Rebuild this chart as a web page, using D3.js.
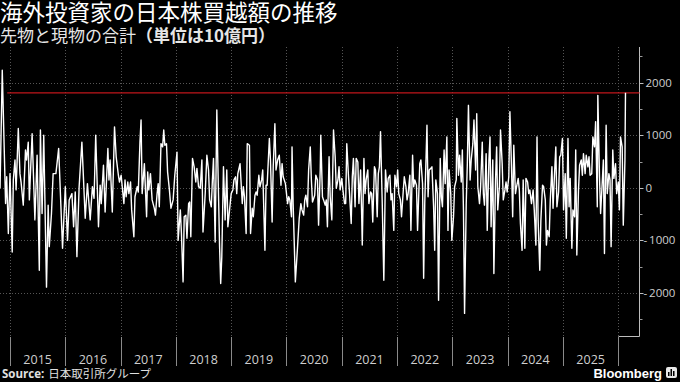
<!DOCTYPE html>
<html>
<head>
<meta charset="utf-8">
<script src="https://cdn.jsdelivr.net/npm/d3@7"></script>
<style>
  html, body { margin: 0; padding: 0; background: #000; }
  svg { display: block; }
</style>
</head>
<body>
<svg id="chart" width="680" height="382"></svg>
<script>
// weekly net buying by foreign investors (futures + cash), 10億円
// dates as decimal years
const dates = [
	2014.82, 2014.86, 2014.92, 2014.94, 2014.97, 2015.00, 2015.04, 2015.06, 2015.09, 2015.11, 2015.15, 2015.18, 2015.20, 2015.24, 2015.28, 2015.30, 2015.33, 2015.35, 2015.40, 2015.45, 2015.49, 2015.53, 2015.55, 2015.58, 2015.61, 2015.66, 2015.69, 2015.71, 2015.75, 2015.78, 2015.83, 2015.88, 2015.95, 2016.00, 2016.04, 2016.07, 2016.12, 2016.15, 2016.18, 2016.21, 2016.25, 2016.30, 2016.36, 2016.40, 2016.45, 2016.49, 2016.52, 2016.55, 2016.60, 2016.63, 2016.65, 2016.69, 2016.72, 2016.77,
	2016.79, 2016.81, 2016.85, 2016.89, 2016.92, 2016.96, 2016.98, 2017.01, 2017.03, 2017.06, 2017.08, 2017.10, 2017.13, 2017.15, 2017.18, 2017.20, 2017.24, 2017.26, 2017.30, 2017.32, 2017.35, 2017.37, 2017.39, 2017.43, 2017.47, 2017.49, 2017.51, 2017.54, 2017.57, 2017.61, 2017.63, 2017.66, 2017.68, 2017.70, 2017.73, 2017.76, 2017.78, 2017.80, 2017.83, 2017.85, 2017.88, 2017.91, 2017.95, 2017.98, 2018.02, 2018.04, 2018.08, 2018.10, 2018.13, 2018.15, 2018.18, 2018.20, 2018.23, 2018.25, 2018.27, 2018.30, 2018.33, 2018.36, 2018.38, 2018.41, 2018.44, 2018.47, 2018.49, 2018.53, 2018.56, 2018.59, 2018.61, 2018.64, 2018.66, 2018.68, 2018.71,
	2018.74, 2018.76, 2018.79, 2018.81, 2018.83, 2018.86, 2018.89, 2018.92, 2018.94, 2018.97, 2019.00, 2019.03, 2019.05, 2019.08, 2019.10, 2019.12, 2019.16, 2019.20, 2019.22, 2019.24, 2019.27, 2019.29, 2019.33, 2019.35, 2019.38, 2019.40, 2019.43, 2019.45, 2019.47, 2019.50, 2019.52, 2019.55, 2019.57, 2019.61, 2019.63, 2019.65, 2019.69, 2019.71, 2019.74, 2019.76, 2019.79, 2019.81, 2019.84, 2019.87, 2019.90, 2019.92, 2019.94, 2019.98, 2020.02, 2020.04, 2020.06, 2020.09, 2020.10, 2020.12, 2020.16, 2020.20, 2020.23, 2020.26, 2020.28, 2020.31, 2020.33, 2020.35, 2020.38, 2020.40, 2020.43, 2020.45, 2020.47, 2020.51, 2020.53, 2020.56, 2020.58, 2020.61,
	2020.62, 2020.65, 2020.67, 2020.70, 2020.72, 2020.74, 2020.77, 2020.79, 2020.82, 2020.85, 2020.88, 2020.90, 2020.93, 2020.95, 2020.97, 2021.00, 2021.02, 2021.05, 2021.07, 2021.09, 2021.12, 2021.14, 2021.17, 2021.19, 2021.21, 2021.24, 2021.26, 2021.29, 2021.31, 2021.34, 2021.36, 2021.37, 2021.40, 2021.42, 2021.44, 2021.47, 2021.49, 2021.52, 2021.54, 2021.56, 2021.59, 2021.61, 2021.64, 2021.66, 2021.68, 2021.70, 2021.73, 2021.76, 2021.79, 2021.82, 2021.84, 2021.87, 2021.89, 2021.91, 2021.94, 2021.96, 2021.99, 2022.01, 2022.03, 2022.06, 2022.08, 2022.11, 2022.13, 2022.16, 2022.18, 2022.20, 2022.23, 2022.25, 2022.28, 2022.30, 2022.32, 2022.35, 2022.37, 2022.41, 2022.43, 2022.46, 2022.48, 2022.50,
	2022.54, 2022.56, 2022.58, 2022.61, 2022.63, 2022.66, 2022.68, 2022.70, 2022.73, 2022.75, 2022.78, 2022.80, 2022.82, 2022.85, 2022.87, 2022.90, 2022.92, 2022.94, 2022.97, 2022.99, 2023.02, 2023.04, 2023.07, 2023.08, 2023.11, 2023.13, 2023.16, 2023.18, 2023.20, 2023.22, 2023.25, 2023.27, 2023.29, 2023.32, 2023.34, 2023.37, 2023.39, 2023.42, 2023.44, 2023.46, 2023.49, 2023.51, 2023.54, 2023.56, 2023.58, 2023.61, 2023.63, 2023.66, 2023.68, 2023.70, 2023.73, 2023.75, 2023.78, 2023.80, 2023.82, 2023.85, 2023.87, 2023.90, 2023.92, 2023.95, 2023.97, 2023.99, 2024.02, 2024.04, 2024.07, 2024.09, 2024.11, 2024.14, 2024.16, 2024.19, 2024.21, 2024.23, 2024.26, 2024.28, 2024.31, 2024.33, 2024.36, 2024.38, 2024.40,
	2024.43, 2024.46, 2024.48, 2024.51, 2024.53, 2024.55, 2024.58, 2024.60, 2024.63, 2024.65, 2024.68, 2024.70, 2024.72, 2024.75, 2024.77, 2024.80, 2024.82, 2024.84, 2024.87, 2024.89, 2024.92, 2024.94, 2024.96, 2024.99, 2025.01, 2025.04, 2025.06, 2025.09, 2025.11, 2025.13, 2025.16, 2025.18, 2025.21, 2025.23, 2025.25, 2025.28, 2025.30, 2025.33, 2025.35, 2025.37, 2025.40, 2025.42, 2025.45, 2025.47, 2025.49, 2025.52, 2025.54, 2025.57, 2025.59, 2025.62, 2025.63, 2025.66, 2025.68, 2025.71, 2025.73, 2025.75, 2025.78, 2025.80, 2025.83, 2025.85, 2025.87, 2025.90, 2025.92, 2025.95, 2025.97, 2026.00, 2026.02, 2026.04, 2026.07, 2026.09, 2026.12, 2026.13
];

const flows = [
	-10, 2240, -300, 210, -870, 270, -1220, 150, 530, -40, 1130, 270, 110, -330, 720, 530, 870, -230, 1030, -610, 620, -1570, 1100, -490, 1000, -1890, -330, -1120, -490, 270, 270, 750, -1150, 20, -1000, -230, -110, -740, -80, -1310, 20, 870, -580, 80, -610, 20, -200, 1000, -740, 50, -300, 430, -460, 750,
	150, 530, -460, 1160, 590, 240, 110, 240, 20, -300, 150, -170, 110, -110, 110, -420, -930, -170, 20, -80, 870, 1290, -110, 460, -550, 300, -40, 270, -230, -390, -520, -110, 80, -360, 840, 780, 1100, 810, 840, 300, -10, -390, -230, 240, 680, -1000, -420, -870, -1790, -550, -520, -960, -300, -270, -930, 560, 400, 110, 370, 20, -10, 530, -840, -110, 620, 340, -230, -360, 150, 560, -1030,
	1480, 400, -1120, -1820, -1310, 400, -610, 340, -740, -420, -110, -40, 150, 210, -110, 270, 460, -300, 20, -170, -870, 840, 810, -870, -390, -550, -140, -80, -140, 240, 20, 150, 340, -1190, 50, 50, 940, 530, -650, 400, 1220, 340, 530, 620, 50, 460, 210, 80, -300, -170, -230, -550, 780, -300, -1790, -1120, -580, -300, -420, -520, -230, -140, -360, 340, 780, 150, -270, -140, 240, 150, -710, 340,
	1000, -170, -230, -330, -230, -740, 590, -170, -610, 1100, 590, -10, 150, 400, -40, 180, -40, -300, -300, 840, 240, -110, -680, 210, 560, -360, 560, 490, -300, 340, -550, -1090, 560, -110, 150, 340, -300, -80, -110, -650, 400, 340, -550, 270, 400, 1070, -230, -1760, 340, -80, 180, 240, -230, -110, -810, 240, 20, 340, -110, -230, -550, -80, 210, 20, -230, -110, 240, -810, 620, 20, 150, 50, -810, 460, 530, 80, -1720, -300,
	1190, -170, 340, 370, 400, -360, -1190, 150, -110, -2140, 560, -170, -360, 720, 80, 970, -810, 340, -110, -1000, -550, 20, 150, 1320, 240, 620, 110, 720, -420, -2390, -300, 460, 1570, 150, 530, 840, 1290, 340, 1410, 20, -300, 20, 870, -110, -330, 650, -810, 530, 970, -740, 530, -1630, 150, 780, -420, 20, 1100, 460, -230, -40, 110, -80, 210, 1450, 340, -550, 810, -110, 20, 180, -40, -680, -1190, 150, -1150, 180, 110, -110, -40,
	-300, -40, -420, -1090, 970, -610, -1570, -610, 50, 20, -230, -1090, -810, -930, -230, 400, -390, 110, 780, -360, -80, 590, 620, 940, -420, 270, -960, 940, -360, 180, -1150, -420, -550, 720, -1280, -40, 430, 530, 240, 650, 270, 620, 400, 590, 240, 270, 970, 780, 1260, -360, 1760, 210, -490, 110, 530, -1250, 1190, -110, 270, 150, -1120, 720, 180, 460, -110, 110, -420, 970, 780, -710, 530, 1808
];

const yearBounds = d3.range(2015, 2027);
const yearLabels = d3.range(2015, 2026);
const yMajor = [-2000, -1000, 0, 1000, 2000];
const yMinor = [-2500, -1500, -500, 500, 1500, 2500];
const refStart = 2014.95;

const title = "海外投資家の日本株買越額の推移";
const subtitle = "先物と現物の合計";
const subtitleUnit = "（単位は10億円）";
const sourceLabel = "Source:";
const sourceName = "日本取引所グループ";

const svg = d3.select("#chart");
const W = 680, H = 382;
const plot = { left: 0, right: 639.5, top: 47, bottom: 336 };

svg.append("rect").attr("width", W).attr("height", H).attr("fill", "#000");

const x = d3.scaleLinear().domain([2015, 2026]).range([10, 618.3]);
const y = d3.scaleLinear().domain([-2820, 2680]).range([plot.bottom, plot.top]);

const jp = "'Noto Sans CJK JP', 'Noto Sans', sans-serif";
const num = "'Open Sans', 'Noto Sans', sans-serif";

// titles
svg.append("text")
	.attr("x", 0).attr("y", 21)
	.attr("fill", "#fff")
	.style("font-family", jp).style("font-size", "22.5px")
	.text(title);

const sub = svg.append("text")
	.attr("x", 0).attr("y", 41.5)
	.attr("fill", "#e6e6e6")
	.style("font-family", jp).style("font-size", "17px");
sub.append("tspan").text(subtitle);
sub.append("tspan").attr("font-weight", "bold").text(subtitleUnit);

// grid
const grid = svg.append("g");
grid.selectAll("line.h").data(yMajor).join("line")
	.attr("class", "h")
	.attr("x1", plot.left).attr("x2", plot.right)
	.attr("y1", d => Math.round(y(d)) + 0.5).attr("y2", d => Math.round(y(d)) + 0.5)
	.attr("stroke", "#555").attr("stroke-dasharray", "1,2");

grid.selectAll("line.v").data(yearBounds).join("line")
	.attr("class", "v")
	.attr("x1", d => Math.round(x(d)) + 0.5).attr("x2", d => Math.round(x(d)) + 0.5)
	.attr("y1", plot.top).attr("y2", plot.bottom)
	.attr("stroke", "#555").attr("stroke-dasharray", "1,2");

// x axis: year boundary ticks below the plot, labels centred in each year
const xAxis = svg.append("g");
xAxis.selectAll("line").data(yearBounds).join("line")
	.attr("x1", d => Math.round(x(d)) + 0.5).attr("x2", d => Math.round(x(d)) + 0.5)
	.attr("y1", plot.bottom + 1).attr("y2", 366)
	.attr("stroke", "#8a8a8a");
xAxis.append("line")
	.attr("x1", Math.round(x(2026)) + 0.5).attr("x2", plot.right)
	.attr("y1", plot.bottom + 0.5).attr("y2", plot.bottom + 0.5)
	.attr("stroke", "#bdbdbd");
xAxis.selectAll("text").data(yearLabels).join("text")
	.attr("x", d => x(d + 0.5)).attr("y", 364)
	.attr("text-anchor", "middle")
	.attr("fill", "#cfcfcf")
	.style("font-family", num).style("font-size", "12.5px")
	.text(d => d);

// y axis on the right
const yAxis = svg.append("g");
yAxis.append("line")
	.attr("x1", plot.right).attr("x2", plot.right)
	.attr("y1", plot.top).attr("y2", plot.bottom + 0.5)
	.attr("stroke", "#bdbdbd");
yAxis.selectAll("line.major").data(yMajor).join("line")
	.attr("class", "major")
	.attr("x1", plot.right).attr("x2", plot.right + 4)
	.attr("y1", d => Math.round(y(d)) + 0.5).attr("y2", d => Math.round(y(d)) + 0.5)
	.attr("stroke", "#bdbdbd");
yAxis.selectAll("line.minor").data(yMinor).join("line")
	.attr("class", "minor")
	.attr("x1", plot.right).attr("x2", plot.right + 3)
	.attr("y1", d => Math.round(y(d)) + 0.5).attr("y2", d => Math.round(y(d)) + 0.5)
	.attr("stroke", "#9a9a9a");
yAxis.selectAll("text").data(yMajor).join("text")
	.attr("x", d => d < 0 ? plot.right + 4 : plot.right + 6)
	.attr("y", d => y(d) + 4)
	.attr("fill", "#cfcfcf")
	.style("font-family", num).style("font-size", "11.5px")
	.text(d => d < 0 ? "-\u2009" + Math.abs(d) : d);

// reference level = latest reading
const latest = flows[flows.length - 1];
svg.append("line")
	.attr("x1", x(refStart)).attr("x2", plot.right)
	.attr("y1", y(latest)).attr("y2", y(latest))
	.attr("stroke", "#c0161b").attr("stroke-width", 1.2);

// the series
const series = dates.map((d, i) => [d, flows[i]]);
const line = d3.line()
	.x(d => x(d[0]))
	.y(d => y(d[1]));

svg.append("path")
	.datum(series)
	.attr("d", line)
	.attr("fill", "none")
	.attr("stroke", "#fff")
	.attr("stroke-width", 1.4)
	.attr("stroke-linejoin", "round");

// footer
const src = svg.append("text")
	.attr("x", 2).attr("y", 378)
	.attr("fill", "#e0e0e0")
	.style("font-size", "11.5px");
src.append("tspan").style("font-family", num).attr("font-weight", "bold").text(sourceLabel);
src.append("tspan").style("font-family", jp).attr("dx", 4).text(sourceName);

svg.append("text")
	.attr("x", 662).attr("y", 378)
	.attr("text-anchor", "end")
	.attr("fill", "#fff")
	.style("font-family", "'Liberation Sans', Arial, sans-serif")
	.style("font-size", "13px").attr("font-weight", "bold")
	.text("Bloomberg");

const logo = svg.append("g").attr("transform", "translate(666,367)");
logo.append("rect").attr("width", 11).attr("height", 11).attr("rx", 2).attr("fill", "#e8e8e8");
logo.selectAll("rect.bar").data([4, 7, 5]).join("rect")
	.attr("class", "bar")
	.attr("x", (d, i) => 2 + i * 2.5).attr("y", d => 9 - d)
	.attr("width", 1.5).attr("height", d => d)
	.attr("fill", "#000");
</script>
</body>
</html>
